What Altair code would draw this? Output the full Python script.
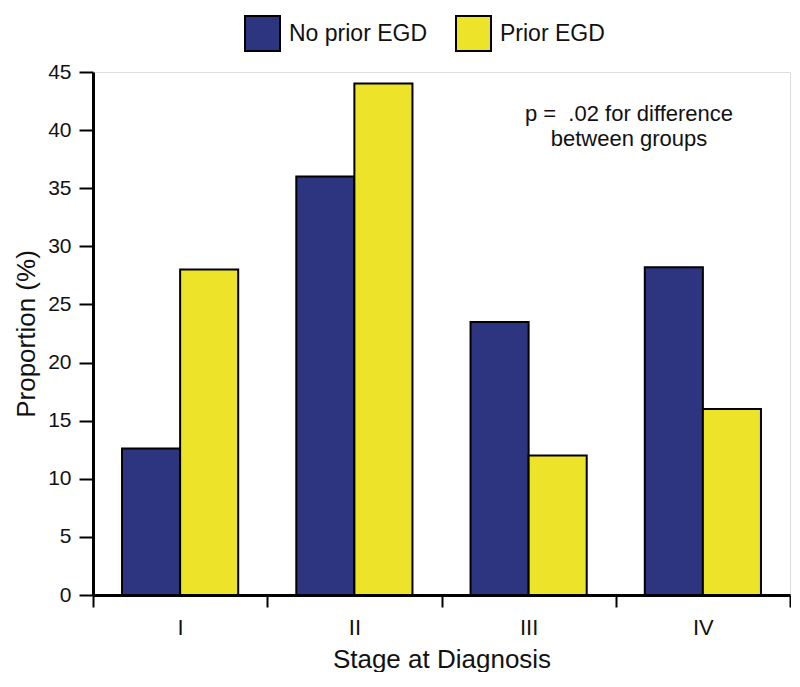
import altair as alt
import pandas as pd

stages = ["I", "II", "III", "IV"]
groups = ["No prior EGD", "Prior EGD"]
no_prior = [12.6, 36.0, 23.5, 28.2]
prior = [28.0, 44.0, 12.0, 16.0]
colors = ["#2e3580", "#ede328"]
y_ticks = [0, 5, 10, 15, 20, 25, 30, 35, 40, 45]
note_lines = ["p =\u00a0\u00a0.02 for difference", "between groups"]

rows = []
for s, a, b in zip(stages, no_prior, prior):
    rows.append({"stage": s, "group": groups[0], "value": a})
    rows.append({"stage": s, "group": groups[1], "value": b})
df = pd.DataFrame(rows)

FONT = "Liberation Sans"
TXT = "#111"

bars = alt.Chart(df).mark_bar(stroke="black", strokeWidth=2).encode(
    x=alt.X("stage:N", sort=stages, title="Stage at Diagnosis",
            scale=alt.Scale(paddingInner=0, paddingOuter=0),
            axis=alt.Axis(labelAngle=0, tickBand="extent", tickSize=12, tickWidth=2,
                          tickColor="black", domainColor="black", domainWidth=3,
                          labelFontSize=22, labelPadding=10, labelColor=TXT,
                          titleFontSize=26, titlePadding=8, titleFontWeight="normal",
                          titleColor=TXT, labelFont=FONT, titleFont=FONT)),
    xOffset=alt.XOffset("group:N", sort=groups,
                        scale=alt.Scale(paddingInner=0, paddingOuter=0.5)),
    y=alt.Y("value:Q", title="Proportion (%)",
            scale=alt.Scale(domain=[0, 45], nice=False),
            axis=alt.Axis(values=y_ticks, grid=False, tickSize=14, tickWidth=2,
                          tickColor="black", domainColor="black", domainWidth=3,
                          labelFontSize=21, labelPadding=8, labelColor=TXT,
                          titleFontSize=26, titlePadding=8, titleFontWeight="normal",
                          titleColor=TXT, labelFont=FONT, titleFont=FONT)),
    fill=alt.Fill("group:N", sort=groups,
                  scale=alt.Scale(domain=groups, range=colors),
                  legend=alt.Legend(title=None, orient="none", direction="horizontal",
                                    legendX=151, legendY=-57, symbolType="square",
                                    symbolSize=1225, symbolStrokeColor="black",
                                    symbolStrokeWidth=2, symbolOpacity=1,
                                    labelFontSize=23, labelFont=FONT, labelColor=TXT,
                                    labelOffset=8, columnPadding=24)),
)

note_df = pd.DataFrame({"text": note_lines, "line": [0, 1]})
note1 = alt.Chart(note_df).transform_filter("datum.line == 0").mark_text(
    fontSize=22, font=FONT, color=TXT, align="center", baseline="alphabetic").encode(
    x=alt.value(536), y=alt.value(49), text="text:N")
note2 = alt.Chart(note_df).transform_filter("datum.line == 1").mark_text(
    fontSize=22, font=FONT, color=TXT, align="center", baseline="alphabetic").encode(
    x=alt.value(536), y=alt.value(74), text="text:N")

chart = alt.layer(bars, note1, note2).properties(
    width=697, height=523,
    padding={"left": 5, "top": 7, "right": 0, "bottom": 0},
).configure_view(stroke=None).configure(background="white")

chart.save("out.html", embed_options={"renderer": "svg", "actions": False})
